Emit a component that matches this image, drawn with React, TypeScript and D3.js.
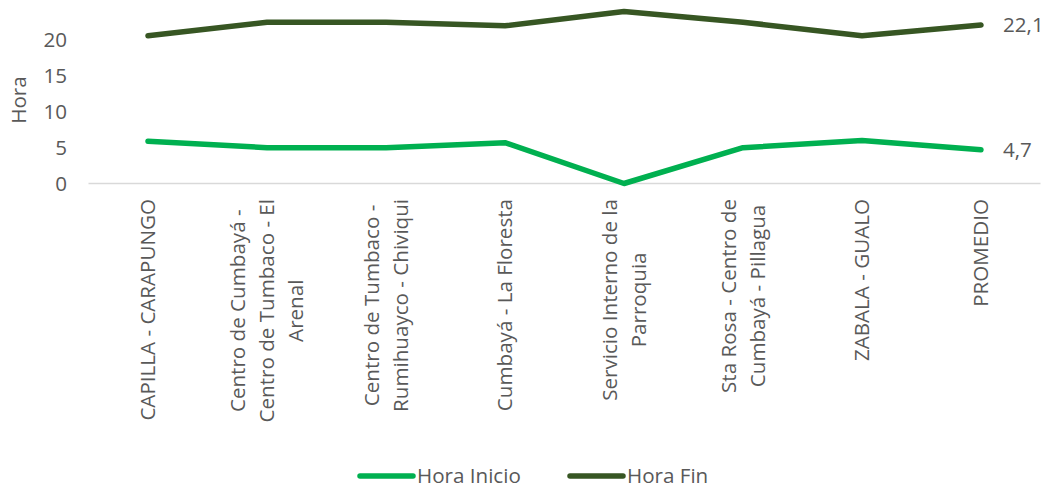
import React, { useEffect, useRef } from "react";
import * as d3 from "d3";

const categories = [
  "CAPILLA - CARAPUNGO",
  "Centro de Cumbayá - Centro de Tumbaco - El Arenal",
  "Centro de Tumbaco - Rumihuayco - Chiviqui",
  "Cumbayá - La Floresta",
  "Servicio Interno de la Parroquia",
  "Sta Rosa - Centro de Cumbayá - Pillagua",
  "ZABALA - GUALO",
  "PROMEDIO",
];
const horaInicio = [5.9, 5.0, 5.0, 5.7, 0, 5.0, 6.0, 4.7];
const horaFin = [20.6, 22.5, 22.5, 22.0, 24.0, 22.5, 20.6, 22.1];
const yTicks = [0, 5, 10, 15, 20];
const seriesNames = ["Hora Inicio", "Hora Fin"];
const seriesColors = ["#00B050", "#375623"];
const lastLabels = ["4,7", "22,1"];

const W = 1046;
const H = 487;
const FONT = "'Open Sans', 'Noto Sans', sans-serif";
const FS = 20.6;
const TEXT = "#595959";

export default function App() {
  const ref = useRef<SVGSVGElement | null>(null);

  useEffect(() => {
    const svg = d3.select(ref.current);
    svg.selectAll("*").remove();

    const x = d3.scaleBand<string>().domain(categories).range([88.5, 1040.5]);
    const y = d3.scaleLinear().domain([0, 25]).range([183.5, 4.3]);
    const cx = (c: string) => (x(c) as number) + x.bandwidth() / 2;

    svg.append("line")
      .attr("x1", 88.5).attr("x2", 1040.5)
      .attr("y1", y(0)).attr("y2", y(0))
      .attr("stroke", "#D9D9D9").attr("stroke-width", 1.3);

    svg.append("g").selectAll("text").data(yTicks).join("text")
      .attr("x", 67).attr("y", (d) => y(d))
      .attr("dy", "0.35em")
      .attr("text-anchor", "end")
      .attr("font-family", FONT).attr("font-size", FS).attr("fill", TEXT)
      .text((d) => String(d));

    svg.append("text")
      .attr("transform", `translate(19,100) rotate(-90)`)
      .attr("text-anchor", "middle").attr("dy", "0.35em")
      .attr("font-family", FONT).attr("font-size", FS).attr("fill", TEXT)
      .text("Hora");

    const maxW = 240;
    const measurer = svg.append("text")
      .attr("font-family", FONT).attr("font-size", FS).attr("visibility", "hidden");
    const measure = (s: string) => {
      measurer.text(s);
      return (measurer.node() as SVGTextElement).getComputedTextLength();
    };
    const lineH = 29;
    categories.forEach((c) => {
      const words = c.split(" ");
      const lines: string[] = [];
      let cur = "";
      words.forEach((w) => {
        const t = cur ? cur + " " + w : w;
        if (cur && measure(t) > maxW) {
          lines.push(cur);
          cur = w;
        } else cur = t;
      });
      if (cur) lines.push(cur);
      const widths = lines.map(measure);
      const blockW = Math.max(...widths);
      const yc = 199 + blockW / 2;
      const x0 = cx(c) - ((lines.length - 1) * lineH) / 2;
      lines.forEach((l, i) => {
        svg.append("text")
          .attr("transform", `translate(${x0 + i * lineH},${yc}) rotate(-90)`)
          .attr("text-anchor", "middle").attr("dy", "0.35em")
          .attr("font-family", FONT).attr("font-size", FS).attr("fill", TEXT)
          .text(l);
      });
    });
    measurer.remove();

    const line = d3.line<number>()
      .x((_, i) => cx(categories[i]))
      .y((d) => y(d));
    [horaInicio, horaFin].forEach((vals, si) => {
      svg.append("path")
        .attr("d", line(vals) as string)
        .attr("fill", "none")
        .attr("stroke", seriesColors[si])
        .attr("stroke-width", 5.5)
        .attr("stroke-linecap", "round")
        .attr("stroke-linejoin", "round");
      const last = vals.length - 1;
      svg.append("text")
        .attr("x", cx(categories[last]) + 22)
        .attr("y", y(vals[last]))
        .attr("dy", "0.35em")
        .attr("font-family", FONT).attr("font-size", FS).attr("fill", TEXT)
        .text(lastLabels[si]);
    });

    const legendX = [360, 570];
    seriesNames.forEach((n, i) => {
      svg.append("line")
        .attr("x1", legendX[i]).attr("x2", legendX[i] + 53)
        .attr("y1", 476).attr("y2", 476)
        .attr("stroke", seriesColors[i]).attr("stroke-width", 5.5)
        .attr("stroke-linecap", "round");
      svg.append("text")
        .attr("x", legendX[i] + 57).attr("y", 476).attr("dy", "0.35em")
        .attr("font-family", FONT).attr("font-size", FS).attr("fill", TEXT)
        .text(n);
    });
  }, []);

  return (
    <svg
      ref={ref}
      width={W}
      height={H}
      style={{ position: "absolute", left: 0, top: 0, background: "#fff" }}
    />
  );
}
